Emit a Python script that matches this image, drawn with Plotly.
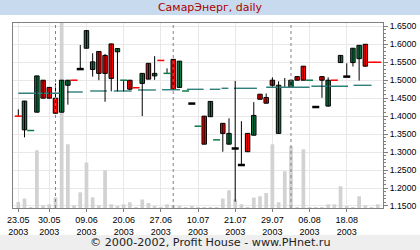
import plotly.graph_objects as go

# ---- data (trading-day index 0..58, 23.05.2003 .. 2003-08) ----
days = list(range(59))
opens = [1.40, 1.362, 1.36, 1.411, 1.50, 1.48, 1.45, 1.411, 1.486, 1.50,
         1.531, 1.589, 1.53, 1.58, 1.569, 1.601, 1.579, 1.50, 1.50, 1.479,
         1.491, 1.547, 1.512, 1.555, 1.519, 1.558, 1.480, 1.470, 1.435, 1.372,
         1.400, 1.3985, 1.334, 1.380, 1.322, 1.31, 1.264, 1.352, 1.347, 1.461,
         1.452, 1.50, 1.352, 1.49, 1.480, 1.510, 1.539, 1.50, 1.4254, 1.510,
         1.428, 1.50, 1.549, 1.51, 1.549, 1.56, 1.60, 1.55, 1.55]
highs = [1.419, 1.442, 1.36, 1.512, 1.50, 1.48, 1.491, 1.50, 1.50, 1.50,
         1.598, 1.638, 1.575, 1.58, 1.573, 1.601, 1.588, 1.50, 1.50, 1.479,
         1.519, 1.547, 1.567, 1.555, 1.533, 1.558, 1.553, 1.470, 1.435, 1.372,
         1.400, 1.441, 1.334, 1.380, 1.394, 1.498, 1.386, 1.352, 1.439, 1.461,
         1.463, 1.508, 1.497, 1.506, 1.50, 1.510, 1.539, 1.50, 1.4254, 1.510,
         1.508, 1.50, 1.569, 1.547, 1.589, 1.597, 1.60, 1.55, 1.55]
lows = [1.40, 1.341, 1.36, 1.411, 1.45, 1.45, 1.408, 1.411, 1.432, 1.50,
        1.531, 1.589, 1.51, 1.50, 1.44, 1.469, 1.469, 1.469, 1.473, 1.479,
        1.40, 1.503, 1.501, 1.555, 1.519, 1.474, 1.480, 1.470, 1.435, 1.372,
        1.322, 1.3985, 1.334, 1.301, 1.322, 1.162, 1.264, 1.301, 1.347, 1.447,
        1.436, 1.482, 1.352, 1.482, 1.480, 1.50, 1.50, 1.50, 1.4254, 1.451,
        1.427, 1.50, 1.549, 1.51, 1.538, 1.499, 1.539, 1.55, 1.55]
closes = [1.40, 1.442, 1.36, 1.512, 1.45, 1.45, 1.408, 1.50, 1.50, 1.50,
          1.531, 1.638, 1.551, 1.519, 1.519, 1.505, 1.588, 1.50, 1.475, 1.479,
          1.519, 1.503, 1.519, 1.555, 1.519, 1.474, 1.553, 1.470, 1.435, 1.372,
          1.322, 1.441, 1.334, 1.352, 1.352, 1.31, 1.264, 1.301, 1.402, 1.447,
          1.436, 1.486, 1.486, 1.49, 1.50, 1.50, 1.50, 1.50, 1.4254, 1.50,
          1.50, 1.50, 1.569, 1.51, 1.589, 1.597, 1.539, 1.55, 1.55]
# colour of the flat mark for days with open == close ('' = none)
flat_colors = {0: 'red', 2: 'green', 9: 'red', 10: 'black', 17: 'green', 19: 'red',
               23: 'red', 24: 'green', 27: 'green', 28: 'black', 29: 'green',
               32: 'green', 35: 'black', 36: 'black', 43: '', 47: 'green',
               48: 'black', 51: 'red', 53: 'black', 57: 'red', 58: 'red'}
volumes = [6000, 9500, 1000, 57700, 2700, 3700, 10800, 190000, 63700, 2700,
           15700, 45500, 10700, 2700, 37700, 3700, 1700, 3700, 5700, 1000,
           8500, 5000, 2000, 1000, 3700, 2700, 2000, 1000, 1700, 1000,
           1000, 700, 700, 9400, 17700, 8700, 3700, 700, 10400, 11700,
           15000, 63700, 5700, 36700, 61700, 700, 58700, 700, 700, 700,
           3700, 3700, 21700, 1700, 700, 11700, 2700, 700, 3700]
# long average line, drawn as horizontal pieces
avg_from = [0, 7.85, 11.6, 15.4, 19.3, 23.2, 27.2, 30.9, 32.8, 34.8, 40.0, 47.3, 54.1]
avg_to = [6.7, 10.4, 14.3, 18.3, 22.2, 26.1, 29.9, 32.6, 33.9, 38.5, 47.0, 53.2, 57.0]
avg_level = [1.4636, 1.4672, 1.470, 1.470, 1.4728, 1.4736, 1.4747, 1.4747,
             1.4775, 1.4775, 1.4803, 1.483, 1.4858]
tick_days = [0, 5, 11, 17, 23, 29, 35, 41, 47, 53]
tick_dates = ['23.05', '30.05', '09.06', '20.06', '27.06', '10.07', '21.07',
              '29.07', '06.08', '18.08']
tick_year = '2003'
month_starts = [6, 25, 44]
price_ticks = [1.15, 1.20, 1.25, 1.30, 1.35, 1.40, 1.45, 1.50, 1.55, 1.60, 1.65]

GREEN = '#0B7A45'
RED = '#FF0000'
COLMAP = {'red': RED, 'green': GREEN, 'black': '#000000'}

fig = go.Figure()

# volume (base axis y, drawn first / underneath)
fig.add_trace(go.Bar(x=days, y=volumes, width=0.6, marker=dict(color='#D2D2D2', line=dict(width=0)),
                     yaxis='y', hoverinfo='skip'))

# average line
ax, ay = [], []
for a, b, lv in zip(avg_from, avg_to, avg_level):
    ax += [a, b, None]
    ay += [lv, lv, None]
fig.add_trace(go.Scatter(x=ax, y=ay, mode='lines', line=dict(color='#2F7F7A', width=1.4),
                         yaxis='y2', hoverinfo='skip'))

# wicks
wx, wy = [], []
for d, h, l in zip(days, highs, lows):
    if h > l:
        wx += [d, d, None]
        wy += [l, h, None]
fig.add_trace(go.Scatter(x=wx, y=wy, mode='lines', line=dict(color='black', width=1),
                         yaxis='y2', hoverinfo='skip'))

# bodies
bx, bh, bb, bc = [], [], [], []
for d, o, c in zip(days, opens, closes):
    if o != c:
        bx.append(d)
        bh.append(abs(c - o))
        bb.append(min(o, c))
        bc.append(GREEN if c > o else RED)
fig.add_trace(go.Bar(x=bx, y=bh, base=bb, width=0.72,
                     marker=dict(color=bc, line=dict(color='black', width=1)),
                     yaxis='y2', hoverinfo='skip'))

# flat marks
for col, lw in (('red', 1.5), ('green', 1.5), ('black', 2.5)):
    fx = [d for d in days if flat_colors.get(d) == col]
    fy = [closes[d] for d in fx]
    fig.add_trace(go.Scatter(x=fx, y=fy, mode='markers', yaxis='y2', hoverinfo='skip',
                             marker=dict(symbol='line-ew', size=5,
                                         line=dict(color=COLMAP[col], width=lw))))

shapes = []
for m in month_starts:
    shapes.append(dict(type='line', xref='x', yref='paper', x0=m, x1=m, y0=0, y1=1,
                       line=dict(color='#808080', width=1, dash='3px,3px'), layer='above'))
# title bar and footer bar
shapes.append(dict(type='rect', xref='paper', yref='paper', x0=-0.1, x1=1.2,
                   ysizemode='pixel', yanchor=1, y0=8, y1=24,
                   fillcolor='#C8DAEE', line=dict(width=0), layer='below'))
shapes.append(dict(type='rect', xref='paper', yref='paper', x0=-0.1, x1=1.2,
                   ysizemode='pixel', yanchor=0, y0=-27, y1=-43,
                   fillcolor='#EEEEEE', line=dict(width=0), layer='below'))

fig.update_layout(
    template='none',
    width=420, height=250,
    margin=dict(l=13, r=37, t=23, b=42, autoexpand=False),
    paper_bgcolor='white', plot_bgcolor='white',
    showlegend=False, barmode='overlay', hovermode=False,
    title=dict(text='СамарЭнерг, daily', x=0.5, xanchor='center', xref='container',
               y=1 - 7.5 / 250, yanchor='middle', yref='container', automargin=False,
               font=dict(family='DejaVu Sans', size=11, color='#A80000')),
    shapes=shapes,
    annotations=[dict(text='© 2000-2002, Profit House - www.PHnet.ru', xref='paper', yref='paper',
                      x=(210 - 13) / 370, y=0, yshift=-34.5, xanchor='center', yanchor='middle',
                      showarrow=False, font=dict(family='DejaVu Sans', size=11.2, color='#222222'))],
    xaxis=dict(range=[-0.855, 58.85], tickmode='array', tickvals=tick_days,
               ticktext=[f'{t}<br>{tick_year}' for t in tick_dates], automargin=False,
               ticks='outside', ticklen=3, tickcolor='#808080',
               showgrid=True, gridcolor='#E8E8E8', gridwidth=1,
               showline=True, linecolor='#808080', linewidth=1, mirror=True,
               zeroline=False, tickfont=dict(family='Liberation Sans', size=9, color='black')),
    yaxis=dict(range=[0, 185000], visible=False, fixedrange=True, automargin=False, showgrid=False),
    yaxis2=dict(overlaying='y', side='right', range=[1.1444, 1.6592], automargin=False,
                tickmode='array', tickvals=price_ticks, tickformat='.4f',
                ticks='outside', ticklen=4, tickcolor='#808080',
                minor=dict(dtick=0.01, tick0=1.15, ticks='outside', ticklen=2, tickcolor='#808080', showgrid=False),
                showgrid=True, gridcolor='#E8E8E8', gridwidth=1,
                showline=True, linecolor='#808080', linewidth=1, mirror=True,
                zeroline=False, tickfont=dict(family='Liberation Sans', size=8.7, color='black')),
)

fig.write_html('out.html')
